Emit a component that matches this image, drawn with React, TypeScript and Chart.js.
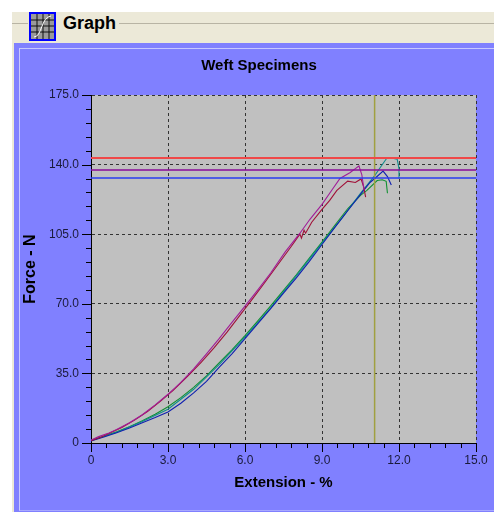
import React, { useEffect, useRef } from "react";
import { Chart, registerables } from "chart.js";

Chart.register(...registerables);

const chartTitle = "Weft Specimens";
const headerTitle = "Graph";
const xAxisTitle = "Extension - %";
const yAxisTitle = "Force - N";

const xMajorTicks = [0, 3, 6, 9, 12, 15];
const yMajorTicks = [0, 35, 70, 105, 140, 175];

const purpleX = [0, 0.3, 0.7, 1, 1.5, 2, 2.5, 3, 3.5, 4, 4.5, 5, 5.5, 6, 6.5, 7, 7.56, 8.14, 8.53, 9, 9.4, 9.7, 10.1, 10.3, 10.44, 10.55, 10.64];
const purpleY = [1.5, 3.2, 5, 6.8, 10.2, 14.2, 19.2, 24.5, 30.5, 37.3, 44.8, 52.6, 60.8, 68.8, 77, 85.5, 96, 105.5, 112.5, 120, 127.5, 133, 136, 138, 139.3, 135, 127];
const darkRedX = [0, 0.4, 0.8, 1.2, 1.7, 2.2, 2.7, 3.2, 3.8, 4.3, 4.8, 5.3, 5.8, 6.3, 6.8, 7.3, 7.8, 8.14, 8.2, 8.3, 8.36, 8.6, 9, 9.3, 9.58, 10, 10.3, 10.52, 10.62, 10.7];
const darkRedY = [1.2, 3, 5.4, 7.8, 11.5, 15.8, 20.9, 26.5, 34, 40.7, 48, 55.8, 64.2, 72.6, 81.2, 90, 98.8, 105, 103, 107, 105.5, 111, 117.5, 122, 127, 131.7, 131, 132.8, 129, 123.6];
const blueX = [0, 0.5, 1, 1.5, 2, 2.5, 3, 3.5, 4, 4.5, 5, 5.5, 6, 6.5, 7, 7.5, 8, 8.5, 9, 9.5, 10, 10.5, 10.87, 11.1, 11.38, 11.55, 11.7];
const blueY = [1, 3, 5.2, 7.5, 10.2, 12.8, 15.6, 20, 25.2, 31, 38.2, 45, 52.5, 60, 67.6, 75.4, 83, 91.2, 99.8, 108.4, 116.8, 125, 131, 133.5, 136.7, 134, 129.7];
const greenX = [0, 0.5, 1, 1.5, 2, 2.5, 3, 3.5, 4, 4.5, 5, 5.5, 6, 6.5, 7, 7.5, 8, 8.5, 9, 9.5, 10, 10.5, 10.75, 11.15, 11.35, 11.5, 11.55];
const greenY = [1.4, 3.4, 5.6, 8.2, 11.2, 14.5, 18.2, 22.8, 28, 33.8, 40.4, 47, 54, 61.4, 69, 76.8, 84.6, 92.8, 101, 109.5, 117.8, 124.5, 127, 132, 132.4, 131.6, 125.6];
const tealX = [0, 1, 2, 3, 4, 5, 6, 7, 8, 9, 9.77, 10.5, 11.06, 11.33, 11.53, 11.7, 11.93, 12, 12];
const tealY = [1.2, 5.4, 10.8, 17, 27, 39.5, 53.2, 68, 84, 100.5, 113, 125.5, 134.6, 139.7, 143.3, 143.3, 142.7, 138, 133];

const redLimit = 143.3;
const purpleLimit = 137.3;
const blueLimit = 133.3;
const markerExtension = 11.05;

const zip = (xs: number[], ys: number[]) => xs.map((x, i) => ({ x, y: ys[i] }));
const isMajor = (v: number, step: number) => Math.abs(v / step - Math.round(v / step)) < 1e-6;

const tickMarks = {
  id: "tickMarks",
  afterDraw(chart: any) {
    const { ctx, scales } = chart;
    ctx.save();
    ctx.strokeStyle = "#000";
    ctx.lineWidth = 1;
    ctx.beginPath();
    for (const t of scales.x.ticks) {
      const px = Math.round(scales.x.getPixelForValue(t.value)) + 0.5;
      const bottom = Math.round(scales.x.top);
      ctx.moveTo(px, bottom);
      ctx.lineTo(px, bottom + (isMajor(t.value, 3) ? 9 : 5));
    }
    for (const t of scales.y.ticks) {
      const py = Math.round(scales.y.getPixelForValue(t.value)) + 0.5;
      const left = Math.round(scales.y.right);
      ctx.moveTo(left, py);
      ctx.lineTo(left - (isMajor(t.value, 35) ? 9 : 5), py);
    }
    ctx.stroke();
    ctx.restore();
  },
};

const plotBackground = {
  id: "plotBackground",
  beforeDraw(chart: any) {
    const { ctx, chartArea: a } = chart;
    ctx.save();
    ctx.fillStyle = "#c0c0c0";
    ctx.fillRect(a.left, a.top, a.right - a.left, a.bottom - a.top);
    ctx.restore();
  },
};

const curve = (label: string, xs: number[], ys: number[], color: string) => ({
  label,
  data: zip(xs, ys),
  borderColor: color,
  borderWidth: 1.1,
  pointRadius: 0,
  showLine: true,
  tension: 0,
});

const limit = (label: string, value: number, color: string, width: number) => ({
  label,
  data: zip([0, 15], [value, value]),
  borderColor: color,
  borderWidth: width,
  pointRadius: 0,
  showLine: true,
});

export default function App() {
  const ref = useRef<HTMLCanvasElement>(null);

  useEffect(() => {
    document.body.style.margin = "0";
    document.body.style.background = "#fff";
    const chart = new Chart(ref.current as HTMLCanvasElement, {
      type: "scatter",
      data: {
        datasets: [
          limit("Red limit", redLimit, "#f04848", 2),
          limit("Purple limit", purpleLimit, "#8a0a9a", 1.5),
          limit("Blue limit", blueLimit, "#2a3cf0", 1.5),
          {
            label: "Marker",
            data: zip([markerExtension, markerExtension], [0, 175]),
            borderColor: "#a0a040",
            borderWidth: 1.5,
            pointRadius: 0,
            showLine: true,
          },
          curve("Specimen 1", purpleX, purpleY, "#a01c98"),
          curve("Specimen 2", darkRedX, darkRedY, "#a01038"),
          curve("Specimen 3", blueX, blueY, "#1020b0"),
          curve("Specimen 4", tealX, tealY, "#108c8c"),
          curve("Specimen 5", greenX, greenY, "#109030"),
        ] as any,
      },
      plugins: [plotBackground, tickMarks],
      options: {
        animation: false,
        responsive: false,
        maintainAspectRatio: false,
        layout: { padding: { left: 22, right: 22, top: 0, bottom: 0 } },
        plugins: {
          legend: { display: false },
          tooltip: { enabled: false },
          title: {
            display: true,
            text: chartTitle,
            color: "#000",
            font: { family: "Liberation Sans", size: 15, weight: "bold", lineHeight: 1.2 },
            padding: { top: 13, bottom: 20 },
          },
        },
        scales: {
          x: {
            type: "linear",
            min: 0,
            max: 15,
            afterFit: (s: any) => { s.height = 69; },
            afterBuildTicks: (s: any) => {
              s.ticks = xMajorTicks.flatMap((v, i) =>
                i === xMajorTicks.length - 1 ? [{ value: v }] : [0, 1, 2, 3, 4].map((k) => ({ value: v + (k * 3) / 5 }))
              );
            },
            ticks: {
              autoSkip: false,
              maxRotation: 0,
              padding: 10,
              color: "#1a1a3a",
              font: { family: "Liberation Sans", size: 12 },
              callback: (v: any) => (isMajor(+v, 3) ? (+v === 0 ? "0" : (+v).toFixed(1)) : ""),
            },
            grid: {
              drawTicks: false,
              color: (c: any) => (c.tick && isMajor(c.tick.value, 3) ? "#333" : "rgba(0,0,0,0)"),
            },
            border: { color: "#000", width: 1, dash: [3, 3] },
            title: {
              display: true,
              text: xAxisTitle,
              color: "#000",
              font: { family: "Liberation Sans", size: 15, weight: "bold", lineHeight: 1.2 },
              padding: { top: 0, bottom: 20 },
            },
          },
          y: {
            type: "linear",
            min: 0,
            max: 175,
            afterFit: (s: any) => { s.width = 49; },
            afterBuildTicks: (s: any) => {
              s.ticks = yMajorTicks.flatMap((v, i) =>
                i === yMajorTicks.length - 1 ? [{ value: v }] : [0, 1, 2, 3, 4].map((k) => ({ value: v + k * 7 }))
              );
            },
            ticks: {
              autoSkip: false,
              padding: 12,
              color: "#1a1a3a",
              font: { family: "Liberation Sans", size: 12 },
              callback: (v: any) => (isMajor(+v, 35) ? (+v === 0 ? "0" : (+v).toFixed(1)) : ""),
            },
            grid: {
              drawTicks: false,
              color: (c: any) => (c.tick && isMajor(c.tick.value, 35) ? "#333" : "rgba(0,0,0,0)"),
            },
            border: { color: "#000", width: 1, dash: [3, 3] },
            title: {
              display: true,
              text: yAxisTitle,
              color: "#000",
              font: { family: "Liberation Sans", size: 16, weight: "bold", lineHeight: 1.2 },
              padding: { top: -20.6, bottom: 0 },
            },
          },
        },
      } as any,
    });
    return () => chart.destroy();
  }, []);

  return (
    <div style={{ position: "relative", width: 494, height: 512, overflow: "hidden", background: "#fff" }}>
      <div style={{ position: "absolute", left: 12, top: 12, width: 482, height: 500, background: "#ece9d8" }} />
      <div style={{ position: "absolute", left: 12, top: 23, width: 16, height: 1, background: "#b8b4a4" }} />
      <div style={{ position: "absolute", left: 119, top: 23, width: 375, height: 1, background: "#b8b4a4" }} />
      <svg style={{ position: "absolute", left: 29, top: 12 }} width={27} height={29} viewBox="0 0 27 29">
        <rect x={1} y={1} width={25} height={27} fill="#9a9a9a" stroke="#0000ff" strokeWidth={2} />
        <path d="M2 8H25M2 14H25M2 20H25M8 2V27M14 2V27M20 2V27" stroke="#111" strokeWidth={1} fill="none" />
        <path d="M5 25C13 25 12 5 22 4" stroke="#fff" strokeWidth={1} fill="none" />
      </svg>
      <div
        style={{
          position: "absolute",
          left: 63,
          top: 12,
          font: "bold 18px 'Liberation Sans'",
          lineHeight: "22px",
          color: "#000",
        }}
      >
        {headerTitle}
      </div>
      <div style={{ position: "absolute", left: 14, top: 43, width: 480, height: 469, background: "#8080ff" }} />
      <div
        style={{
          position: "absolute",
          left: 19,
          top: 48,
          width: 475,
          height: 463,
          borderLeft: "1px solid #c8c8ff",
          borderTop: "1px solid #c8c8ff",
          borderBottom: "1px solid #a8a8ff",
          boxSizing: "border-box",
        }}
      />
      <canvas ref={ref} width={478} height={468} style={{ position: "absolute", left: 20, top: 44, width: 478, height: 468 }} />
    </div>
  );
}
